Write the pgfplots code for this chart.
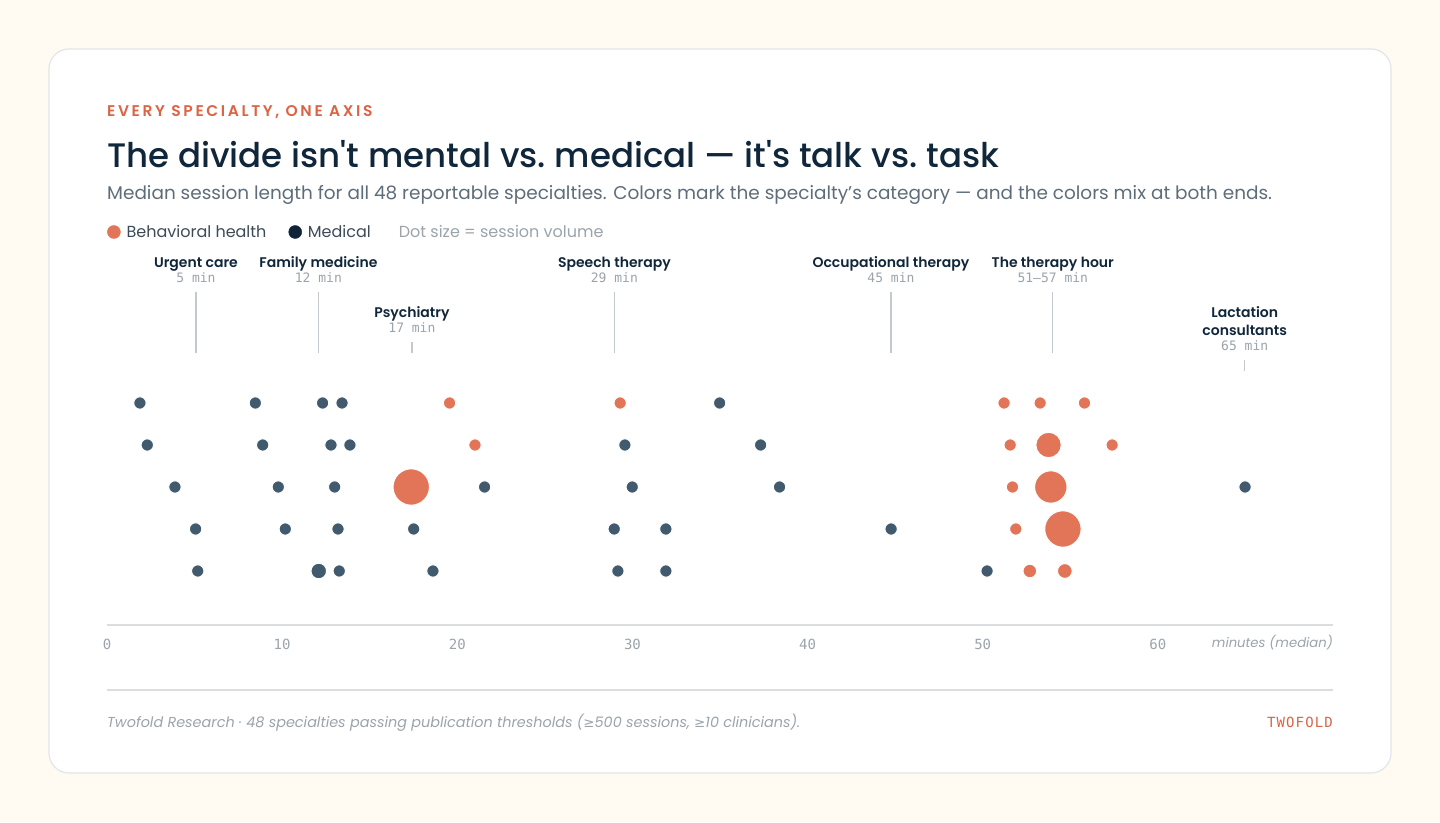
\documentclass[border=0pt]{standalone}
\usepackage{fontspec}
\setmainfont{Poppins}
\newfontfamily\titlefont{Poppins Medium}
\newfontfamily\semib{Poppins SemiBold}
\newfontfamily\mono{DejaVu Sans Mono}
\newfontfamily\sym{DejaVu Sans}
\usepackage{pgfplots}
\usepackage{pgfplotstable}
\pgfplotsset{compat=1.18}
\definecolor{bg}{HTML}{FFFBF2}
\definecolor{cardborder}{HTML}{E2E5E8}
\definecolor{accent}{HTML}{DC6445}
\definecolor{dotorange}{HTML}{E27558}
\definecolor{dotnavy}{HTML}{415A6E}
\definecolor{navy}{HTML}{10263A}
\definecolor{legnavy}{HTML}{0F2438}
\definecolor{subgray}{HTML}{5E6D79}
\definecolor{legtext}{HTML}{3C4B57}
\definecolor{lightgray}{HTML}{9BA4AB}
\definecolor{rulegray}{HTML}{DADEE1}
\definecolor{leadergray}{HTML}{C3C9CE}

% x = median minutes, y = row position, r = dot radius (size ~ session volume)
\pgfplotstableread{
x y r
19.56 222 6.2
29.30 222 6.2
51.22 222 6.2
53.28 222 6.2
55.81 222 6.2
21.01 180 6.2
51.57 180 6.2
53.76 180 12.7
57.39 180 6.2
17.37 138 18.2
51.70 138 6.2
53.89 138 16.2
51.89 96 6.2
54.58 96 18.2
52.69 54 6.8
54.69 54 7.4
}\behav

\pgfplotstableread{
x y r
1.88 222 6.2
8.47 222 6.2
12.31 222 6.2
13.42 222 6.2
34.98 222 6.2
2.30 180 6.2
8.89 180 6.2
12.79 180 6.2
13.87 180 6.2
29.57 180 6.2
37.32 180 6.2
3.88 138 6.2
9.78 138 6.2
13.00 138 6.2
21.56 138 6.2
29.99 138 6.2
38.40 138 6.2
64.98 138 6.2
5.06 96 6.2
10.18 96 6.2
13.19 96 6.2
17.51 96 6.2
28.96 96 6.2
31.91 96 6.2
44.77 96 6.2
5.18 54 6.2
12.09 54 7.8
13.26 54 6.2
18.61 54 6.2
29.17 54 6.2
31.91 54 6.2
50.25 54 6.2
}\medical

\begin{document}
\begin{tikzpicture}[x=1pt,y=1pt]
% background and card
\fill[bg] (0pt,0pt) rectangle (1440pt,822pt);
\draw[cardborder, fill=white, rounded corners=20pt, line width=1.2pt] (49pt,49pt) rectangle (1391pt,773pt);

% header
\node[anchor=base west, inner sep=0pt, text=accent, font=\semib\fontsize{15.5}{16}\selectfont\addfontfeatures{LetterSpace=17}] at (107pt,705.5pt) {EVERY SPECIALTY, ONE AXIS};
\node[anchor=base west, inner sep=0pt, text=navy, font=\titlefont\fontsize{34}{40}\selectfont] at (107pt,654.5pt) {The divide isn't mental vs.\ medical — it's talk vs.\ task};
\node[anchor=base west, inner sep=0pt, text=subgray, font=\fontsize{18.45}{22}\selectfont] at (107pt,622pt) {Median session length for all 48 reportable specialties. Colors mark the specialty's category — and the colors mix at both ends.};

\begin{axis}[
  at={(107pt,197pt)}, anchor=south west,
  scale only axis, width=1226pt, height=375pt,
  xmin=0, xmax=70, ymin=0, ymax=375,
  clip=false,
  axis x line*=bottom, axis y line=none,
  axis line style={rulegray, line width=1.5pt},
  xtick={0,10,20,30,40,50,60},
  xticklabels={0,10,20,30,40,50,60},
  major tick length=0pt,
  /pgf/number format/assume math mode=true,
  xticklabel style={anchor=center, yshift=-19pt, text=lightgray, font=\mono\fontsize{14}{14}\selectfont},
  legend columns=3,
  legend style={at={(0,1.048)}, anchor=west, draw=none, fill=none, inner sep=0pt,
    font=\fontsize{16}{16}\selectfont, text=legtext,
    /tikz/every odd column/.append style={column sep=4pt},
    /tikz/every even column/.append style={column sep=20pt}},
  legend cell align=left,
]
\addlegendimage{legend image code/.code={\fill[dotorange] (0pt,0pt) circle (6.5pt);}}
\addlegendentry{Behavioral health}
\addlegendimage{legend image code/.code={\fill[legnavy] (0pt,0pt) circle (6.5pt);}}
\addlegendentry{Medical}
\addlegendimage{empty legend}
\addlegendentry{\textcolor{lightgray}{Dot size = session volume}}

\addplot[scatter, only marks, mark=*, forget plot,
  scatter/use mapped color={draw=white, fill=dotnavy},
  visualization depends on={\thisrow{r} \as \rad},
  scatter/@pre marker code/.append style={/tikz/mark size=\rad},
  line width=1pt] table[x=x, y=y] {\medical};
\addplot[scatter, only marks, mark=*, forget plot,
  scatter/use mapped color={draw=white, fill=dotorange},
  visualization depends on={\thisrow{r} \as \rad},
  scatter/@pre marker code/.append style={/tikz/mark size=\rad},
  line width=1pt] table[x=x, y=y] {\behav};

% annotations
\tikzset{nm/.style={anchor=base, inner sep=0pt, text=navy, font=\semib\fontsize{14}{14}\selectfont},
         vl/.style={anchor=base, inner sep=0pt, text=lightgray, font=\mono\fontsize{13}{13}\selectfont},
         ld/.style={leadergray, line width=1.2pt}}
\node[nm] at (axis cs:5.08,357) {Urgent care};
\node[vl] at (axis cs:5.08,342) {5 min};
\draw[ld] (axis cs:5.08,333) -- (axis cs:5.08,272);

\node[nm] at (axis cs:12.07,357) {Family medicine};
\node[vl] at (axis cs:12.07,342) {12 min};
\draw[ld] (axis cs:12.07,333) -- (axis cs:12.07,272);

\node[nm] at (axis cs:17.41,307) {Psychiatry};
\node[vl] at (axis cs:17.41,292) {17 min};
\draw[ld] (axis cs:17.41,283) -- (axis cs:17.41,272);

\node[nm] at (axis cs:28.97,357) {Speech therapy};
\node[vl] at (axis cs:28.97,342) {29 min};
\draw[ld] (axis cs:28.97,333) -- (axis cs:28.97,272);

\node[nm] at (axis cs:44.76,357) {Occupational therapy};
\node[vl] at (axis cs:44.76,342) {45 min};
\draw[ld] (axis cs:44.76,333) -- (axis cs:44.76,272);

\node[nm] at (axis cs:54.0,357) {The therapy hour};
\node[vl] at (axis cs:54.0,342) {51–57 min};
\draw[ld] (axis cs:54.0,333) -- (axis cs:54.0,272);

\node[nm] at (axis cs:64.96,307) {Lactation};
\node[nm] at (axis cs:64.96,289) {consultants};
\node[vl] at (axis cs:64.96,274) {65 min};
\draw[ld] (axis cs:64.96,265) -- (axis cs:64.96,254);

\node[anchor=base east, inner sep=0pt, text=lightgray, font=\fontsize{13.2}{14}\selectfont\itshape] at (axis cs:70,-23) {minutes (median)};
\end{axis}

% footer
\draw[rulegray, line width=1.2pt] (107pt,132pt) -- (1333pt,132pt);
\node[anchor=base west, inner sep=0pt, text=lightgray, font=\fontsize{14.4}{15}\selectfont\itshape] at (107pt,95pt) {Twofold Research · 48 specialties passing publication thresholds ({\sym\fontsize{13.4}{14}\selectfont ≥}500 sessions, {\sym\fontsize{13.4}{14}\selectfont ≥}10 clinicians).};
\node[anchor=base east, inner sep=0pt, text=accent, font=\mono\fontsize{14}{14}\selectfont\addfontfeatures{LetterSpace=8}] at (1333pt,94pt) {TWOFOLD};
\end{tikzpicture}
\end{document}
